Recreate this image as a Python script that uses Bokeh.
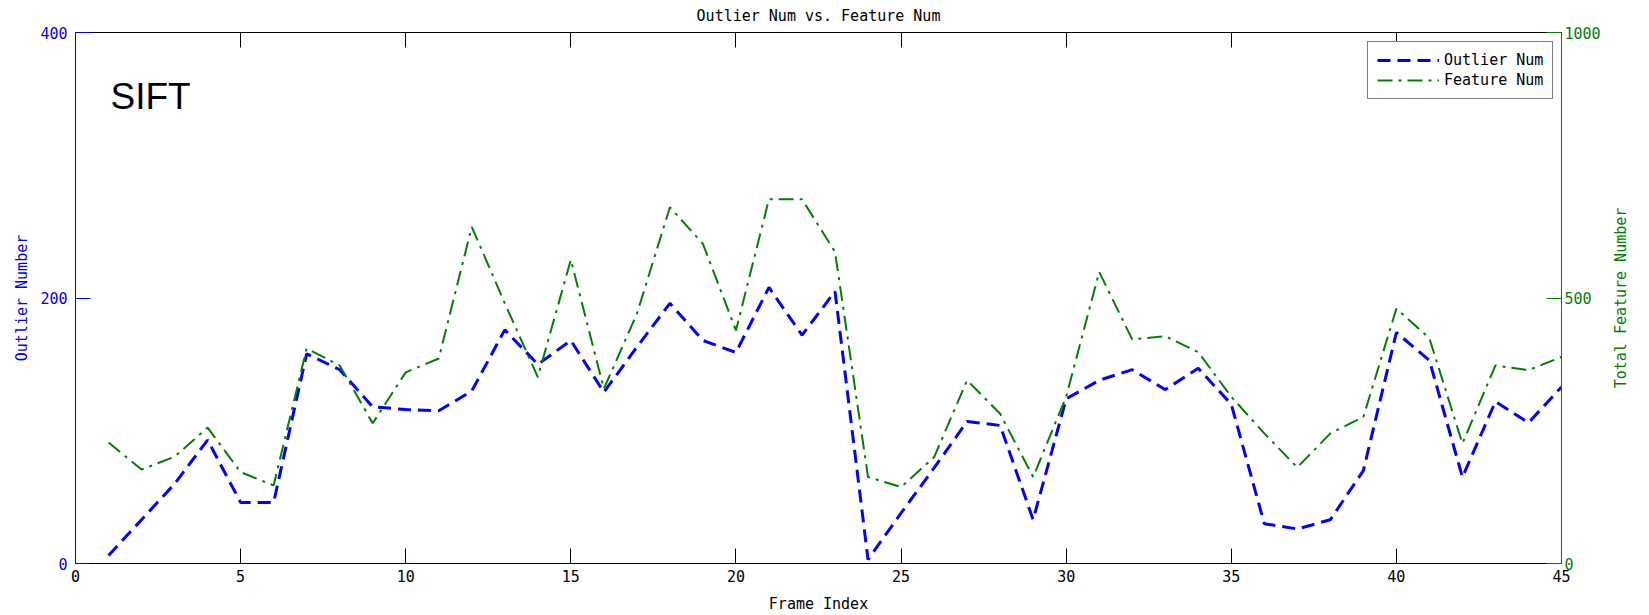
import math
from bokeh.plotting import figure
from bokeh.layouts import row
from bokeh.models import Range1d, LinearAxis, FixedTicker, Legend, LegendItem, Label
from bokeh.embed import file_html
from bokeh.resources import INLINE

# ---- data ----
frame_index = list(range(1, 46))
outlier_num = [6, 33, 60, 93, 46, 46, 158, 146, 118, 116, 115, 130, 176, 150, 168,
               129, 163, 196, 168, 159, 208, 172, 205, 3, 38, 72, 107, 104, 33, 124,
               138, 146, 131, 147, 120, 30, 26, 33, 70, 174, 153, 65, 122, 106, 133]
feature_num = [228, 177, 201, 256, 172, 147, 405, 373, 264, 360, 386, 634, 490, 351, 572,
               329, 470, 671, 602, 439, 686, 686, 587, 163, 144, 200, 345, 282, 163, 314,
               549, 422, 428, 398, 314, 245, 181, 245, 276, 480, 424, 226, 373, 364, 389]
x_ticks = [0, 5, 10, 15, 20, 25, 30, 35, 40, 45]
left_ticks = [0, 200, 400]
right_ticks = [0, 500, 1000]
series_labels = ["Outlier Num", "Feature Num"]
right_axis_title = "Total Feature Number"

FONT = "DejaVu Sans Mono"
BLUE = "#0000ff"
GREEN = "#008000"

p = figure(width=1603, height=615, output_backend="svg", toolbar_location=None,
           x_range=Range1d(0, 45), y_range=Range1d(0, 400),
           x_axis_location=None, y_axis_location=None,
           min_border_left=75, min_border_right=40, min_border_top=32, min_border_bottom=51,
           background_fill_color="white", border_fill_color="white")
p.extra_y_ranges = {"right": Range1d(0, 1000)}
p.grid.grid_line_color = None
p.outline_line_color = None

p.title.text = "Outlier Num vs. Feature Num"
p.title.align = "center"
p.title.text_font = FONT
p.title.text_font_size = "15px"
p.title.text_font_style = "normal"
p.title.text_color = "black"
p.title.standoff = 12
p.title.vertical_align = "top"


def style_axis(ax, color):
    ax.axis_line_color = color
    ax.axis_line_width = 1
    ax.major_tick_line_color = color
    ax.major_tick_in = 15
    ax.major_tick_out = 0
    ax.minor_tick_line_color = None
    ax.major_label_text_color = color
    ax.major_label_text_font = FONT
    ax.major_label_text_font_size = "15px"
    ax.axis_label_text_color = color
    ax.axis_label_text_font = FONT
    ax.axis_label_text_font_size = "15px"
    ax.axis_label_text_font_style = "normal"


bottom = LinearAxis(ticker=FixedTicker(ticks=x_ticks), axis_label="Frame Index")
style_axis(bottom, "black")
bottom.major_label_standoff = 6
bottom.axis_label_standoff = 10
p.add_layout(bottom, "below")

top = LinearAxis(ticker=FixedTicker(ticks=x_ticks))
style_axis(top, "black")
top.major_label_text_font_size = "0px"
top.major_label_text_color = None
top.major_label_standoff = 0
p.add_layout(top, "above")

left = LinearAxis(ticker=FixedTicker(ticks=left_ticks), axis_label="Outlier Number")
style_axis(left, BLUE)
left.major_label_standoff = 8
left.axis_label_standoff = 6
p.add_layout(left, "left")

right = LinearAxis(y_range_name="right", ticker=FixedTicker(ticks=right_ticks))
style_axis(right, GREEN)
right.major_label_standoff = 3
p.add_layout(right, "right")

r1 = p.line(frame_index, outlier_num, line_color=BLUE, line_width=3, line_dash="13 7")
r2 = p.line(frame_index, feature_num, y_range_name="right", line_color=GREEN,
            line_width=2, line_dash="15 6 3 6")

legend = Legend(items=[LegendItem(label=series_labels[0], renderers=[r1]),
                       LegendItem(label=series_labels[1], renderers=[r2])],
                location=(1292, 464))
legend.label_text_font = FONT
legend.label_text_font_size = "15px"
legend.label_text_color = "black"
legend.border_line_color = "black"
legend.border_line_width = 1
legend.background_fill_color = "white"
legend.background_fill_alpha = 1
legend.padding = 9
legend.spacing = 2
legend.margin = 0
legend.label_height = 18
legend.glyph_height = 18
legend.glyph_width = 62
legend.label_standoff = 5
p.add_layout(legend)

p.add_layout(Label(x=1.06, y=352, text="SIFT", text_font="Liberation Sans",
                   text_font_size="37px", text_color="black",
                   text_baseline="alphabetic"))

# narrow strip on the right holding the right-axis title (reads bottom-to-top)
side = figure(width=46, height=615, output_backend="svg", toolbar_location=None,
              x_range=Range1d(0, 46), y_range=Range1d(0, 1000),
              x_axis_location=None, y_axis_location=None,
              min_border_left=0, min_border_right=0, min_border_top=32, min_border_bottom=51,
              background_fill_color="white", border_fill_color="white")
side.grid.grid_line_color = None
side.outline_line_color = None
side.text(x=[17], y=[500], text=[right_axis_title], angle=math.pi / 2,
          text_align="center", text_baseline="middle",
          text_font={"value": FONT}, text_font_size="15px", text_color=GREEN)

layout = row(p, side, spacing=0)
open("out.html", "w").write(file_html(layout, INLINE))
